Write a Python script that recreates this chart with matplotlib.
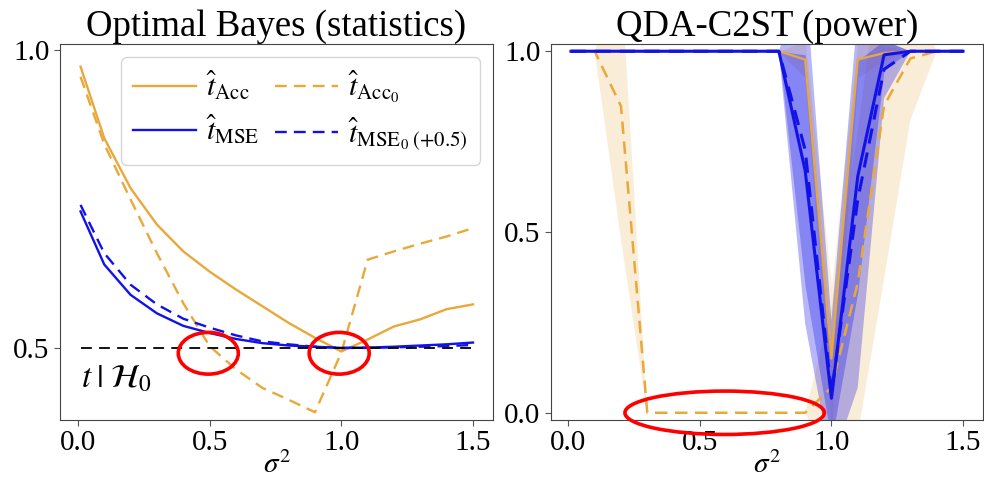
import numpy as np
import matplotlib
matplotlib.use("Agg")
import matplotlib.pyplot as plt
from matplotlib.patches import Ellipse

plt.rcParams['font.family'] = ['Liberation Serif', 'DejaVu Serif']
plt.rcParams['mathtext.fontset'] = 'stix'

# ---------------- data ----------------
sigma2 = [0.01, 0.1, 0.2, 0.3, 0.4, 0.5, 0.6, 0.7, 0.8, 0.9, 1.0, 1.1, 1.2, 1.3, 1.4, 1.5]

# Left: optimal Bayes statistics
t_acc  = [0.972, 0.852, 0.768, 0.707, 0.662, 0.628, 0.598, 0.570, 0.542, 0.517, 0.494, 0.514, 0.536, 0.548, 0.565, 0.573]
t_acc0 = [0.955, 0.842, 0.749, 0.659, 0.575, 0.503, 0.464, 0.433, 0.413, 0.392, 0.492, 0.648, 0.662, 0.675, 0.687, 0.701]
t_mse  = [0.729, 0.640, 0.589, 0.558, 0.537, 0.525, 0.515, 0.508, 0.504, 0.502, 0.500, 0.5005, 0.502, 0.504, 0.506, 0.509]
t_mse0 = [0.740, 0.659, 0.606, 0.573, 0.549, 0.534, 0.521, 0.511, 0.506, 0.502, 0.500, 0.500, 0.501, 0.502, 0.503, 0.505]
t_h0 = 0.5

# Right: QDA-C2ST power (mean and spread)
pw_acc      = [1.0, 1.0, 1.0, 1.0, 1.0, 1.0, 1.0, 1.0, 1.0, 0.977, 0.150, 0.977, 0.995, 1.0, 1.0, 1.0]
pw_acc_sd   = [0.0, 0.0, 0.0, 0.0, 0.0, 0.0, 0.0, 0.0, 0.0, 0.05, 0.20, 0.05, 0.02, 0.0, 0.0, 0.0]
pw_acc0     = [1.0, 1.0, 0.848, 0.0, 0.0, 0.0, 0.0, 0.0, 0.0, 0.0, 0.070, 0.360, 0.850, 0.980, 1.0, 1.0]
pw_acc0_sd  = [0.0, 0.0, 0.37, 0.0, 0.0, 0.0, 0.0, 0.0, 0.0, 0.0, 0.22, 0.42, 0.48, 0.17, 0.0, 0.0]
pw_mse      = [1.0, 1.0, 1.0, 1.0, 1.0, 1.0, 1.0, 1.0, 1.0, 0.670, 0.040, 0.654, 0.990, 1.0, 1.0, 1.0]
pw_mse_sd   = [0.0, 0.0, 0.0, 0.0, 0.0, 0.0, 0.0, 0.0, 0.0, 0.32, 0.12, 0.32, 0.04, 0.0, 0.0, 0.0]
pw_mse0     = [1.0, 1.0, 1.0, 1.0, 1.0, 1.0, 1.0, 1.0, 1.0, 0.727, 0.055, 0.590, 0.950, 1.0, 1.0, 1.0]
pw_mse0_sd  = [0.0, 0.0, 0.0, 0.0, 0.0, 0.0, 0.0, 0.0, 0.0, 0.48, 0.20, 0.52, 0.08, 0.0, 0.0, 0.0]

titles = ["Optimal Bayes (statistics)", "QDA-C2ST (power)"]
labels = [r'$\hat{t}_{\mathrm{Acc}}$', r'$\hat{t}_{\mathrm{MSE}}$',
          r'$\hat{t}_{\mathrm{Acc}_0}$', r'$\hat{t}_{\mathrm{MSE}_0\;\mathrm{(+0.5)}}$']

ORANGE = '#E9A83A'
BLUE = '#1212E8'
DASH = (0, (5, 3))

x = np.array(sigma2)
fig = plt.figure(figsize=(9.84, 4.78), dpi=100)
axL = fig.add_axes([60/984, 1-420/478, 433/984, 376/478])
axR = fig.add_axes([551/984, 1-420/478, 432/984, 376/478])

# ---------- left panel ----------
lw = 1.7
h1, = axL.plot(x, t_acc, color=ORANGE, lw=lw)
h3, = axL.plot(x, t_acc0, color=ORANGE, lw=lw, ls=DASH)
h2, = axL.plot(x, t_mse, color=BLUE, lw=lw)
h4, = axL.plot(x, t_mse0, color=BLUE, lw=lw, ls=DASH)
axL.plot([x[0], x[-1]], [t_h0, t_h0], color='black', lw=1.3, ls=(0, (6, 4)))
axL.text(0.01, 0.447, r'$t\;|\;\mathcal{H}_0$', fontsize=24, ha='left', va='center')
axL.set_xlim(-0.068, 1.576)
axL.set_ylim(0.379, 1.01)
axL.set_yticks([0.5, 1.0])
axL.set_xticks([0.0, 0.5, 1.0, 1.5])
axL.legend([h1, h2, h3, h4], labels, ncol=2, loc='upper right', fontsize=21.5,
           handlelength=2.1, columnspacing=0.5, handletextpad=0.35,
           borderpad=0.4, labelspacing=0.35, borderaxespad=0.3,
           bbox_to_anchor=(0.99, 0.99))
for cx in (0.495, 0.992):
    axL.add_patch(Ellipse((cx, 0.491), 0.228, 0.07, fill=False, ec='red', lw=2.6, zorder=5))

# ---------- right panel ----------
for m, s, col, a in [(pw_acc, pw_acc_sd, ORANGE, 0.2), (pw_acc0, pw_acc0_sd, ORANGE, 0.2),
                     (pw_mse, pw_mse_sd, BLUE, 0.3), (pw_mse0, pw_mse0_sd, BLUE, 0.3)]:
    m = np.array(m); s = np.array(s)
    axR.fill_between(x, m - s, m + s, color=col, alpha=a, lw=0)
for m, ls, col, w in [(pw_acc, '-', ORANGE, 1.6), (pw_acc0, DASH, ORANGE, 1.8),
                      (pw_mse, '-', BLUE, 2.2), (pw_mse0, DASH, BLUE, 2.2)]:
    axR.plot(x, m, color=col, ls=ls, lw=w)
axR.set_xlim(-0.066, 1.576)
axR.set_ylim(-0.02, 1.02)
axR.set_yticks([0.0, 0.5, 1.0])
axR.set_xticks([0.0, 0.5, 1.0, 1.5])
axR.add_patch(Ellipse((0.594, 0.0), 0.758, 0.12, fill=False, ec='red', lw=2.6, zorder=5, clip_on=False))

for ax, t in zip((axL, axR), titles):
    ax.set_title(t, fontsize=26.5, pad=4)
    ax.set_xlabel(r'$\sigma^2$', fontsize=21, labelpad=-4)
    ax.tick_params(labelsize=21, length=4, color='#555555')
    for sp in ax.spines.values():
        sp.set_color('#444444')

fig.savefig('out.png', dpi=100)
